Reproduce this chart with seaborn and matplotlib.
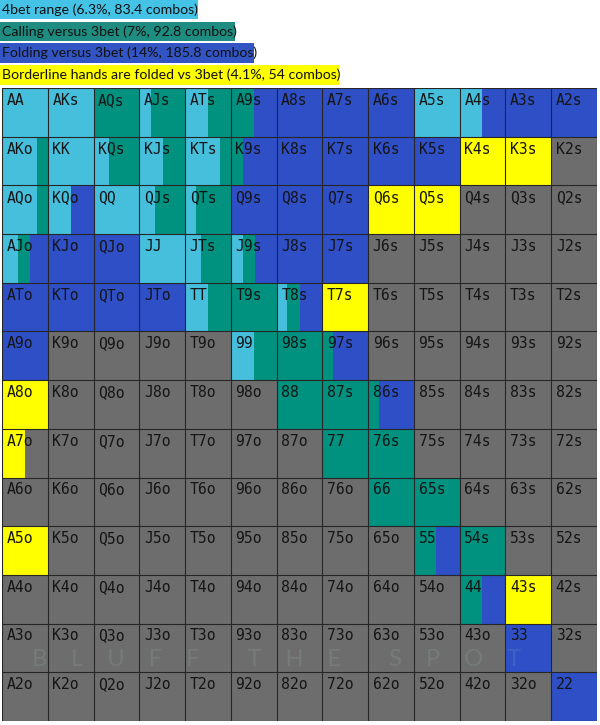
import numpy as np
import pandas as pd
import matplotlib.pyplot as plt
import seaborn as sns
from matplotlib.colors import ListedColormap
from matplotlib.patches import Rectangle

ranks = ['A', 'K', 'Q', 'J', 'T', '9', '8', '7', '6', '5', '4', '3', '2']

# share of each hand per action (rest of the cell = not played)
fourbet = {'AA': 1, 'AKs': 1, 'AJs': 0.25, 'ATs': 0.5, 'A5s': 1, 'A4s': 0.48,
           'AKo': 0.76, 'KK': 1, 'KQs': 0.34, 'KJs': 0.51, 'KTs': 0.77,
           'AQo': 0.76, 'KQo': 0.51, 'QQ': 1, 'QJs': 0.35, 'QTs': 0.24,
           'AJo': 0.36, 'JJ': 1, 'JTs': 0.35, 'J9s': 0.26,
           'TT': 0.5, 'T8s': 0.22, '99': 0.5}
calling = {'AQs': 1, 'AJs': 0.75, 'ATs': 0.5, 'A9s': 0.5,
           'AKo': 0.24, 'KQs': 0.66, 'KJs': 0.49, 'KTs': 0.23, 'K9s': 0.26,
           'AQo': 0.24, 'QJs': 0.65, 'QTs': 0.76,
           'AJo': 0.25, 'JTs': 0.65, 'J9s': 0.26,
           'TT': 0.5, 'T9s': 1, 'T8s': 0.29,
           '99': 0.5, '98s': 1, '97s': 0.23,
           '88': 1, '87s': 1, '86s': 0.23,
           '77': 1, '76s': 1, '66': 1, '65s': 1,
           '55': 0.49, '54s': 1, '44': 0.48}
folding = {'A9s': 0.5, 'A8s': 1, 'A7s': 1, 'A6s': 1, 'A4s': 0.52, 'A3s': 1, 'A2s': 1,
           'K9s': 0.74, 'K8s': 1, 'K7s': 1, 'K6s': 1, 'K5s': 1,
           'KQo': 0.49, 'Q9s': 1, 'Q8s': 1, 'Q7s': 1,
           'AJo': 0.39, 'KJo': 1, 'QJo': 1, 'J9s': 0.48, 'J8s': 1, 'J7s': 1,
           'ATo': 1, 'KTo': 1, 'QTo': 1, 'JTo': 1, 'T8s': 0.49,
           'A9o': 1, '97s': 0.77, '86s': 0.77,
           '55': 0.51, '44': 0.52, '33': 1, '22': 1}
borderline = {'K4s': 1, 'K3s': 1, 'Q6s': 1, 'Q5s': 1, 'T7s': 1,
              'A8o': 1, 'A7o': 0.5, 'A5o': 1, '43s': 1}

legend_labels = ['4bet range (6.3%, 83.4 combos)',
                 'Calling versus 3bet (7%, 92.8 combos)',
                 'Folding versus 3bet (14%, 185.8 combos)',
                 'Borderline hands are folded vs 3bet (4.1%, 54 combos)']

colors = ['#45bfdc', '#00917f', '#2e4fc6', '#ffff00']
legend_colors = ['#45c3e6', '#1e8c80', '#3355c4', '#ffff00']
gray = '#6d6d6d'


def hand_name(i, j):
    if i == j:
        return ranks[i] + ranks[j]
    if j > i:
        return ranks[i] + ranks[j] + 's'
    return ranks[j] + ranks[i] + 'o'


rows = []
for i in range(13):
    for j in range(13):
        h = hand_name(i, j)
        rows.append({'row': i, 'col': j, 'hand': h,
                     '4bet': fourbet.get(h, 0), 'call': calling.get(h, 0),
                     'fold': folding.get(h, 0), 'border': borderline.get(h, 0)})
df = pd.DataFrame(rows)

W, H = 600, 725
fig = plt.figure(figsize=(6, 7.25), dpi=100)
ax = fig.add_axes([2 / W, 1 - 721 / H, 595 / W, 633 / H])

base = np.zeros((13, 13))
sns.heatmap(base, cmap=ListedColormap([gray]), cbar=False, ax=ax,
            xticklabels=False, yticklabels=False)

left = np.zeros(len(df))
for col, c in zip(['4bet', 'call', 'fold', 'border'], colors):
    w = df[col].values
    m = w > 0
    ax.barh(df['row'].values[m] + 0.5, w[m], left=df['col'].values[m] + left[m],
            height=1, color=c, linewidth=0, zorder=2)
    left = left + w

for k in range(14):
    ax.axhline(k, color='#262626', lw=0.8, zorder=3)
    ax.axvline(k, color='#262626', lw=0.8, zorder=3)

for _, r in df.iterrows():
    ax.text(r['col'] + 0.1, r['row'] + 0.1, r['hand'], ha='left', va='top',
            fontsize=10.6, family='DejaVu Sans Mono', color='#151515', zorder=4)

# faint watermark
ax.text(6.0, 11.74, 'B    L    U    F    F        T    H    E        S    P    O    T',
        ha='center', va='center', fontsize=17, color='#9cc7c0', alpha=0.16,
        zorder=5, family='Lato')

ax.set_xlim(0, 13)
ax.set_ylim(13, 0)
ax.set_xlabel('')
ax.set_ylabel('')
for s in ax.spines.values():
    s.set_visible(False)

# legend boxes (top, bottom, right edge in pixels)
boxes = [(0, 19, 198), (22, 41, 235), (43, 63, 254), (65, 85, 339)]
for (t, b, r), lab, c in zip(boxes, legend_labels, legend_colors):
    fig.patches.append(Rectangle((0, 1 - b / H), r / W, (b - t) / H,
                                 transform=fig.transFigure, fc=c, ec='none'))
    fig.text(2 / W, 1 - (t + b) / 2 / H, lab, ha='left', va='center',
             fontsize=10.2, family='Lato', color='#111111')

fig.savefig('out.png', dpi=100)
